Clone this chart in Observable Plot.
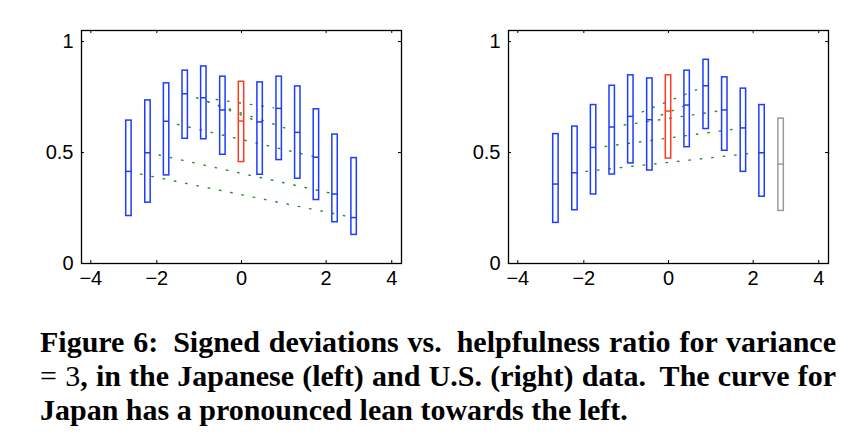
<!DOCTYPE html>
<html><head><meta charset="utf-8">
<script src="https://cdn.jsdelivr.net/npm/d3@7"></script>
<script src="https://cdn.jsdelivr.net/npm/@observablehq/plot@0.6"></script>
<style>
html,body{margin:0;padding:0;background:#fff;}
body{width:859px;height:445px;overflow:hidden;position:relative;}
#left,#right{position:absolute;top:0;}
#left{left:0;} #right{left:427px;}
#caption{position:absolute;left:40px;top:325px;width:796px;font-family:"Liberation Serif","Times New Roman",serif;font-weight:bold;font-size:30px;line-height:34px;color:#000;}
#caption .j{text-align:justify;text-align-last:justify;white-space:nowrap;}
#caption .l{text-align:left;white-space:nowrap;}
#caption .m{font-weight:normal;}
</style></head><body>
<div id="left"></div><div id="right"></div>
<div id="caption">
<div class="j">Figure 6:&#8201; Signed deviations vs.&#8201; helpfulness ratio for variance</div>
<div class="j"><span class="m">= 3</span>, in the Japanese (left) and U.S. (right) data.&#8201; The curve for</div>
<div class="l">Japan has a pronounced lean towards the left.</div>
</div>
<script>
// bin centres (position on the drawn axis)
const binX = [-2.66,-2.21,-1.77,-1.33,-0.89,-0.44,0,0.44,0.89,1.33,1.77,2.21,2.66];

// Japanese data (left)
const jpUpper  = [0.644,0.735,0.812,0.869,0.888,0.842,0.819,0.816,0.842,0.798,0.695,0.581,0.475];
const jpMedian = [0.415,0.499,0.641,0.765,0.747,0.692,0.642,0.638,0.699,0.591,0.479,0.313,0.207];
const jpLower  = [0.214,0.274,0.397,0.562,0.560,0.490,0.457,0.400,0.466,0.382,0.286,0.186,0.129];
const jpKind   = ["bin","bin","bin","bin","bin","bin","center","bin","bin","bin","bin","bin","bin"];

// U.S. data (right)
const usUpper  = [0.583,0.617,0.714,0.801,0.848,0.834,0.848,0.869,0.918,0.839,0.788,0.714,0.653];
const usMedian = [0.358,0.409,0.523,0.615,0.663,0.648,0.687,0.714,0.801,0.692,0.611,0.499,0.448];
const usLower  = [0.183,0.240,0.311,0.401,0.451,0.419,0.473,0.524,0.606,0.508,0.413,0.301,0.237];
const usKind   = ["bin","bin","bin","bin","bin","bin","center","bin","bin","bin","bin","bin","sparse"];

// green dotted trend lines: [[xStart, yStart], [xEnd, yEnd]]
const jpTrends = [
  [[-2.385,0.403],[2.486,0.213]],
  [[-1.948,0.489],[2.102,0.317]],
  [[-1.510,0.627],[1.724,0.481]],
  [[-1.063,0.747],[1.022,0.611]],
  [[-0.796,0.729],[0.354,0.642]],
  [[-0.597,0.739],[0.756,0.702]]
];
const usTrends = [
  [[-1.950,0.415],[1.930,0.496]],
  [[-1.495,0.527],[1.535,0.605]],
  [[-1.046,0.624],[1.143,0.686]],
  [[-0.621,0.683],[0.661,0.783]],
  [[-0.172,0.669],[0.347,0.708]]
];

// axis ticks
const xTickPos    = [-3.56,-2,0,2,3.55];
const xTickLabels = ["\u22124","\u22122","0","2","4"];
const yTickPos    = [0,0.5,1];
const yTickLabels = ["0","0.5","1"];

function panel(upper, median, lower, kind, trends) {
  const boxes = binX.map((x,i)=>({x, top:upper[i], med:median[i], bot:lower[i], kind:kind[i]}));
  const pts = [];
  trends.forEach((seg,i)=>seg.forEach(([x,y])=>pts.push({id:i,x,y})));
  const W = 0.064;
  const width = 430, height = 300, mL = 81, mR = 29, mT = 30, mB = 37;
  const pw = width - mL - mR, ph = height - mT - mB;
  const xl = new Map(xTickPos.map((p,i)=>[p,xTickLabels[i]]));
  const yl = new Map(yTickPos.map((p,i)=>[p,yTickLabels[i]]));
  return Plot.plot({
    width, height, marginLeft:mL, marginRight:mR, marginTop:mT, marginBottom:mB,
    x:{domain:[-3.78,3.78], label:null},
    y:{domain:[0,1.05], label:null},
    color:{domain:["bin","center","sparse"], range:["#1e3cff","#ff3b1f","#9a9a9a"]},
    style:{fontFamily:"'Liberation Sans', Arial, Helvetica, sans-serif", fontSize:"20px", color:"#000", background:"#fff"},
    marks:[
      Plot.line(pts, {x:"x", y:"y", z:"id", stroke:"#2a8c2a", strokeWidth:1.4, strokeDasharray:"1.5 10"}),
      Plot.rect(boxes, {x1:d=>d.x-W, x2:d=>d.x+W, y1:"bot", y2:"top", fill:"none", stroke:"kind", strokeWidth:1.5}),
      Plot.ruleY(boxes, {y:"med", x1:d=>d.x-W, x2:d=>d.x+W, stroke:"kind", strokeWidth:1.5}),
      Plot.tickX(xTickPos, {x:d=>d, insetTop:ph-3, stroke:"#000"}),
      Plot.tickX(xTickPos, {x:d=>d, insetBottom:ph-3, stroke:"#000"}),
      Plot.tickY(yTickPos, {y:d=>d, insetRight:pw-3, stroke:"#000"}),
      Plot.tickY(yTickPos, {y:d=>d, insetLeft:pw-3, stroke:"#000"}),
      Plot.frame({stroke:"#000", strokeWidth:1.3}),
      Plot.axisX({ticks:xTickPos, tickSize:0, tickPadding:7, tickFormat:d=>xl.get(d), label:null}),
      Plot.axisY({ticks:yTickPos, tickSize:0, tickPadding:8, tickFormat:d=>yl.get(d), label:null})
    ]
  });
}
document.getElementById("left").appendChild(panel(jpUpper, jpMedian, jpLower, jpKind, jpTrends));
document.getElementById("right").appendChild(panel(usUpper, usMedian, usLower, usKind, usTrends));
</script>
</body></html>
